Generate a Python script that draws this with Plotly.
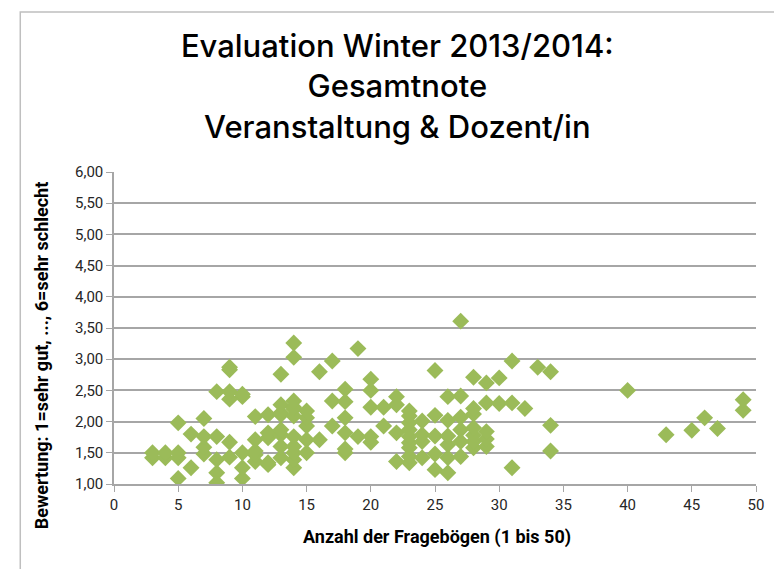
"""Streudiagramm: Evaluation Winter 2013/2014 - Gesamtnote."""

import plotly.graph_objects as go

GREEN = "#9BBB59"
GRID = "#A6A6A6"
TEXT = "#262626"

# Anzahl der Fragebögen je Veranstaltung
anzahl = [
    3, 3, 4, 4, 5, 5, 5, 5, 6, 6,
    7, 7, 7, 7, 8, 8, 8, 8, 8,
    9, 9, 9, 9, 9, 9, 10, 10, 10, 10, 10,
    11, 11, 11, 11, 11, 12, 12, 12, 12, 12,
    13, 13, 13, 13, 13, 13, 13, 13,
    14, 14, 14, 14, 14, 14, 14, 14, 14, 14, 14,
    15, 15, 15, 15, 15, 16, 16, 17, 17, 17,
    18, 18, 18, 18, 18, 18, 19, 19, 20, 20, 20, 20, 20,
    21, 21, 22, 22, 22, 22,
    23, 23, 23, 23, 23, 23, 23, 23, 23,
    24, 24, 24, 24, 25, 25, 25, 25, 25,
    26, 26, 26, 26, 26, 26, 27, 27, 27, 27, 27, 27,
    28, 28, 28, 28, 28, 28, 28, 29, 29, 29, 29, 29,
    30, 30, 31, 31, 31, 32, 33, 34, 34, 34,
    40, 43, 45, 46, 47, 49, 49,
]
# Gesamtnote (1 = sehr gut, 6 = sehr schlecht)
note = [
    1.42, 1.50, 1.42, 1.50, 1.09, 1.42, 1.50, 1.98, 1.26, 1.80,
    1.48, 1.59, 1.76, 2.05, 1.02, 1.18, 1.39, 1.76, 2.48,
    1.43, 1.67, 2.36, 2.48, 2.83, 2.87, 1.09, 1.26, 1.50, 2.40, 2.44,
    1.36, 1.47, 1.53, 1.71, 2.08, 1.31, 1.34, 1.74, 1.82, 2.11,
    1.42, 1.60, 1.79, 1.87, 2.11, 2.14, 2.27, 2.76,
    1.26, 1.39, 1.50, 1.60, 1.76, 2.09, 2.20, 2.23, 2.33, 3.03, 3.26,
    1.50, 1.71, 1.93, 2.06, 2.17, 1.71, 2.80, 1.93, 2.33, 2.97,
    1.50, 1.56, 1.82, 2.06, 2.32, 2.52, 1.76, 3.17, 1.67, 1.76, 2.23, 2.50, 2.68,
    1.93, 2.23, 1.36, 1.82, 2.27, 2.40,
    1.34, 1.44, 1.58, 1.66, 1.76, 1.87, 1.98, 2.09, 2.17,
    1.42, 1.68, 1.79, 2.01, 1.23, 1.48, 1.77, 2.10, 2.82,
    1.18, 1.42, 1.63, 1.77, 2.02, 2.40, 1.44, 1.68, 1.87, 2.07, 2.41, 3.61,
    1.58, 1.68, 1.78, 1.90, 2.12, 2.21, 2.71, 1.60, 1.72, 1.84, 2.30, 2.62,
    2.29, 2.70, 1.26, 2.30, 2.97, 2.21, 2.87, 1.53, 1.94, 2.80,
    2.50, 1.79, 1.86, 2.06, 1.89, 2.18, 2.35,
]

x_ticks = [0, 5, 10, 15, 20, 25, 30, 35, 40, 45, 50]
y_ticks = [1.0, 1.5, 2.0, 2.5, 3.0, 3.5, 4.0, 4.5, 5.0, 5.5, 6.0]

fig = go.Figure()
fig.add_trace(
    go.Scatter(
        x=anzahl,
        y=note,
        mode="markers",
        marker=dict(symbol="diamond", size=13, color=GREEN, line=dict(width=0)),
        showlegend=False,
    )
)

# die Seite hat 8px Rand, daher 774x561
fig.update_layout(
    width=774,
    height=561,
    margin=dict(l=106, r=26, t=164, b=85),
    paper_bgcolor="white",
    plot_bgcolor="white",
    separators=",.",
    font=dict(family="Roboto", size=15, color=TEXT),
    title=dict(
        text="Evaluation Winter 2013/2014:<br>Gesamtnote<br>Veranstaltung &amp; Dozent/in",
        x=0.503,
        xanchor="center",
        y=1 - 49 / 561,
        yanchor="top",
        font=dict(family="Inter", size=31, color="black", weight=500),
    ),
    shapes=[
        dict(
            type="rect", xref="paper", yref="paper",
            x0=-0.146, x1=1.07, y0=-0.35, y1=1.513,
            line=dict(color="#BFBFBF", width=1.5),
        )
    ],
    annotations=[
        dict(
            text="<b>Anzahl der Fragebögen (1 bis 50)</b>",
            xref="paper", yref="paper", x=0.503, y=-0.212,
            showarrow=False, font=dict(size=18, color="black"),
        ),
        dict(
            text="<b>Bewertung: 1=sehr gut, ..., 6=sehr schlecht</b>",
            xref="paper", yref="paper", x=-0.133, y=0.41,
            textangle=-90, showarrow=False, font=dict(size=18, color="black"),
        ),
    ],
)
fig.update_xaxes(
    range=[0, 50],
    tickvals=x_ticks,
    showgrid=False,
    zeroline=False,
    showline=True,
    linecolor=GRID,
    linewidth=1.5,
    ticks="outside",
    ticklen=6,
    tickcolor=GRID,
    tickfont=dict(size=15, color=TEXT),
)
fig.update_yaxes(
    range=[1, 6],
    tickvals=y_ticks,
    tickformat=".2f",
    showgrid=True,
    gridcolor=GRID,
    gridwidth=1.5,
    zeroline=False,
    showline=True,
    linecolor=GRID,
    linewidth=1.5,
    ticks="outside",
    ticklen=6,
    tickcolor=GRID,
    tickfont=dict(size=15, color=TEXT),
)

fig.write_html("out.html")
